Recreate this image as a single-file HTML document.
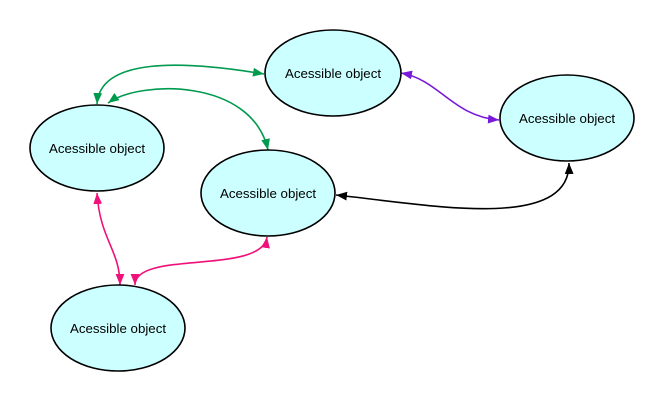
<!DOCTYPE html>
<html><head><style>body{margin:0;background:#fff}</style></head><body>
<svg width="666" height="405" xmlns="http://www.w3.org/2000/svg" font-family="Liberation Sans, sans-serif" font-size="13.3">
<defs>
<marker id="g" viewBox="0 0 10 10" refX="10" refY="5" markerWidth="11" markerHeight="11" markerUnits="userSpaceOnUse" orient="auto-start-reverse"><path d="M0,1L10,5L0,9z" fill="#009a4e"/></marker>
<marker id="p" viewBox="0 0 10 10" refX="10" refY="5" markerWidth="11" markerHeight="11" markerUnits="userSpaceOnUse" orient="auto-start-reverse"><path d="M0,1L10,5L0,9z" fill="#7a1ad8"/></marker>
<marker id="k" viewBox="0 0 10 10" refX="10" refY="5" markerWidth="11" markerHeight="11" markerUnits="userSpaceOnUse" orient="auto-start-reverse"><path d="M0,1L10,5L0,9z" fill="#000"/></marker>
<marker id="r" viewBox="0 0 10 10" refX="10" refY="5" markerWidth="11" markerHeight="11" markerUnits="userSpaceOnUse" orient="auto-start-reverse"><path d="M0,1L10,5L0,9z" fill="#f0107a"/></marker>
</defs>
<g fill="none" stroke-width="1.6">
<path d="M97,104 C100,58 180,60 264,74" stroke="#009a4e" marker-start="url(#g)" marker-end="url(#g)"/>
<path d="M108,103 C140,80 252,78 268,150" stroke="#009a4e" marker-start="url(#g)" marker-end="url(#g)"/>
<path d="M401,73 C440,80 452,116 499,120" stroke="#7a1ad8" marker-start="url(#p)" marker-end="url(#p)"/>
<path d="M336,195 C430,205 570,232 569,163" stroke="#000" marker-start="url(#k)" marker-end="url(#k)"/>
<path d="M97,193 C100,240 120,250 120,285" stroke="#f0107a" marker-start="url(#r)" marker-end="url(#r)"/>
<path d="M135,285 C135,250 262,275 267,237" stroke="#f0107a" marker-start="url(#r)" marker-end="url(#r)"/>
</g>
<g fill="#ccffff" stroke="#000" stroke-width="1.6">
<ellipse cx="333" cy="73" rx="68" ry="43"/>
<ellipse cx="567" cy="118" rx="67" ry="43"/>
<ellipse cx="97" cy="148" rx="67" ry="43"/>
<ellipse cx="268" cy="193" rx="67" ry="43"/>
<ellipse cx="118" cy="328" rx="67" ry="43"/>
</g>
<g text-anchor="middle" fill="#000">
<text x="333" y="78">Acessible object</text>
<text x="567" y="123">Acessible object</text>
<text x="97" y="153">Acessible object</text>
<text x="268" y="198">Acessible object</text>
<text x="118" y="333">Acessible object</text>
</g>
</svg>
</body></html>
